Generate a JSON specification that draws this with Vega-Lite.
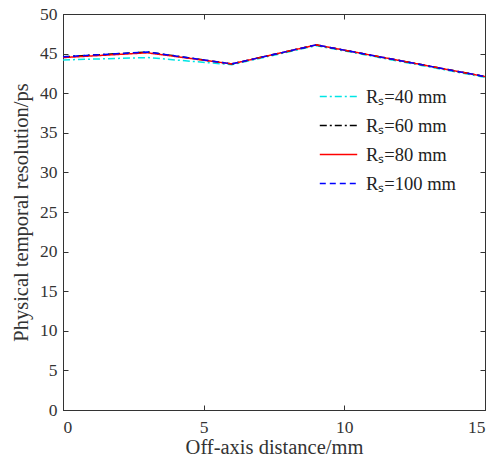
{
  "$schema": "https://vega.github.io/schema/vega-lite/v6.json",
  "width": 422,
  "height": 396,
  "autosize": "none",
  "padding": {"left": 63, "top": 14, "right": 8, "bottom": 51},
  "background": "white",
  "config": {
    "view": {"stroke": "#333333", "strokeWidth": 1},
    "font": "Liberation Serif",
    "axis": {
      "labelFont": "Liberation Serif", "titleFont": "Liberation Serif",
      "labelFontSize": 17.5, "titleFontSize": 20.5, "titleFontWeight": "normal",
      "labelColor": "#333333", "titleColor": "#333333",
      "domainColor": "#333333", "tickColor": "#333333",
      "tickSize": -5, "grid": false, "labelPadding": 11
    }
  },
  "data": {"values": [
    {"x": 0, "y": 44.2, "s": "Rₛ=40 mm"},
    {"x": 3, "y": 44.5, "s": "Rₛ=40 mm"},
    {"x": 6, "y": 43.6, "s": "Rₛ=40 mm"},
    {"x": 9, "y": 46.0, "s": "Rₛ=40 mm"},
    {"x": 12, "y": 44.0, "s": "Rₛ=40 mm"},
    {"x": 15, "y": 42.0, "s": "Rₛ=40 mm"},
    {"x": 0, "y": 44.6, "s": "Rₛ=60 mm"},
    {"x": 3, "y": 45.2, "s": "Rₛ=60 mm"},
    {"x": 6, "y": 43.7, "s": "Rₛ=60 mm"},
    {"x": 9, "y": 46.1, "s": "Rₛ=60 mm"},
    {"x": 12, "y": 44.1, "s": "Rₛ=60 mm"},
    {"x": 15, "y": 42.1, "s": "Rₛ=60 mm"},
    {"x": 0, "y": 44.5, "s": "Rₛ=80 mm"},
    {"x": 3, "y": 45.1, "s": "Rₛ=80 mm"},
    {"x": 6, "y": 43.7, "s": "Rₛ=80 mm"},
    {"x": 9, "y": 46.1, "s": "Rₛ=80 mm"},
    {"x": 12, "y": 44.1, "s": "Rₛ=80 mm"},
    {"x": 15, "y": 42.1, "s": "Rₛ=80 mm"},
    {"x": 0, "y": 44.6, "s": "Rₛ=100 mm"},
    {"x": 3, "y": 45.2, "s": "Rₛ=100 mm"},
    {"x": 6, "y": 43.7, "s": "Rₛ=100 mm"},
    {"x": 9, "y": 46.1, "s": "Rₛ=100 mm"},
    {"x": 12, "y": 44.1, "s": "Rₛ=100 mm"},
    {"x": 15, "y": 42.1, "s": "Rₛ=100 mm"}
  ]},
  "layer": [
    {
      "mark": {"type": "line", "strokeWidth": 1.5},
      "encoding": {
        "x": {"field": "x", "type": "quantitative", "scale": {"domain": [0, 15], "nice": false},
              "axis": {"title": "Off-axis distance/mm", "values": [0, 5, 10, 15], "titlePadding": 2, "labelPadding": 13}},
        "y": {"field": "y", "type": "quantitative", "scale": {"domain": [0, 50], "nice": false},
              "axis": {"title": "Physical temporal resolution/ps", "values": [0,5,10,15,20,25,30,35,40,45,50], "titlePadding": 8}},
        "color": {"field": "s", "type": "nominal",
                  "sort": ["Rₛ=40 mm", "Rₛ=60 mm", "Rₛ=80 mm", "Rₛ=100 mm"],
                  "scale": {"domain": ["Rₛ=40 mm", "Rₛ=60 mm", "Rₛ=80 mm", "Rₛ=100 mm"], "range": ["#00e5e5", "#000000", "#ff0000", "#0000ff"]},
                  "legend": {"title": null, "orient": "none", "legendX": 256, "legendY": 63,
                             "labelFont": "Liberation Serif", "labelFontSize": 18.5, "labelColor": "#222222",
                             "symbolType": "stroke", "symbolSize": 1400, "symbolStrokeWidth": 1.5,
                             "rowPadding": -11, "labelOffset": 8}},
        "strokeDash": {"field": "s", "type": "nominal",
                  "scale": {"domain": ["Rₛ=40 mm", "Rₛ=60 mm", "Rₛ=80 mm", "Rₛ=100 mm"], "range": [[7, 3, 2, 3], [7, 3, 2, 3], [1, 0], [6, 4]]}},
        "order": {"field": "x"}
      }
    },
    {
      "mark": {"type": "rule", "opacity": 0},
      "encoding": {
        "x": {"datum": 0, "type": "quantitative", "scale": {"domain": [0, 15], "nice": false},
              "axis": {"orient": "top", "values": [0, 5, 10, 15], "labels": false, "title": null, "domain": false}},
        "y": {"datum": 0, "type": "quantitative", "scale": {"domain": [0, 50], "nice": false},
              "axis": {"orient": "right", "values": [0,5,10,15,20,25,30,35,40,45,50], "labels": false, "title": null, "domain": false}}
      }
    }
  ],
  "resolve": {"axis": {"x": "independent", "y": "independent"}}
}
